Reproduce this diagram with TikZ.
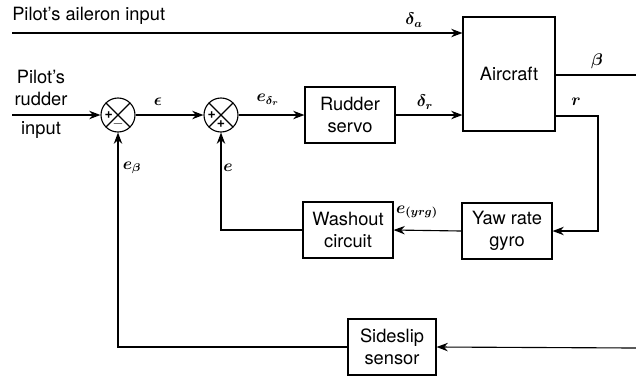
\documentclass[tikz,border=0pt]{standalone}
\usepackage{fontspec}
\setmainfont{TeX Gyre Heros}
\usetikzlibrary{arrows.meta}

\tikzset{
  blk/.style={draw, line width=0.8pt, align=center, font=\fontsize{13}{15.5}\selectfont, inner sep=0pt},
  sumj/.style={draw, circle, line width=0.8pt, minimum size=0.85cm, inner sep=0pt,
    path picture={\draw[line width=0.8pt] (path picture bounding box.north west) -- (path picture bounding box.south east)
      (path picture bounding box.north east) -- (path picture bounding box.south west);}},
  sgn/.style={font=\normalsize\bfseries, inner sep=0pt},
  sig/.style={line width=0.8pt, -{Stealth[length=8pt,width=6pt]}},
  wire/.style={line width=0.8pt},
  lbl/.style={font=\boldmath\large, inner sep=1pt},
  txt/.style={font=\fontsize{13}{15.5}\selectfont, inner sep=0pt},
}

\begin{document}
\begin{tikzpicture}[x=0.025cm, y=-0.025cm]
  \useasboundingbox (0,0) rectangle (636,377);

  % blocks
  \node[blk, minimum width=2.3cm, minimum height=2.85cm] (air) at (509,74) {Aircraft};
  \node[blk, minimum width=2.25cm, minimum height=1.4cm] (servo) at (350,115) {Rudder\\servo};
  \node[blk, minimum width=2.25cm, minimum height=1.4cm] (wash) at (348,230) {Washout\\circuit};
  \node[blk, minimum width=2.25cm, minimum height=1.4cm] (gyro) at (507,231) {Yaw rate\\gyro};
  \node[blk, minimum width=2.2cm, minimum height=1.4cm] (slip) at (392,347) {Sideslip\\sensor};

  % summing junctions
  \node[sumj] (s1) at (118,115) {};
  \node[sgn] at ([xshift=-0.23cm]s1.center) {+};
  \node[sgn] at ([yshift=-0.22cm]s1.center) {$-$};
  \node[sumj] (s2) at (221,115) {};
  \node[sgn] at ([xshift=-0.23cm]s2.center) {+};
  \node[sgn] at ([yshift=-0.22cm]s2.center) {+};

  % free ends
  \coordinate (ailin) at (12,33);
  \coordinate (rudin) at (12,115);
  \coordinate (betaout) at (636,75);
  \coordinate (rturn) at (598,116);
  \coordinate (slipin) at (636,348);

  % inputs
  \node[txt, anchor=south west] (ailtxt) at (12,25) {Pilot's aileron input};
  \node[txt, align=center] (rudtxt) at (41,88) {Pilot's\\rudder};
  \node[txt] (rudtxt2) at (41,130) {input};

  % connectors
  \draw[sig] (ailin) -- (ailin -| air.west);
  \draw[sig] (rudin) -- (s1.west);
  \draw[sig] (s1.east) -- (s2.west);
  \draw[sig] (s2.east) -- (servo.west);
  \draw[sig] (servo.east) -- (servo.east -| air.west);
  \draw[wire] (air.east |- betaout) -- (betaout);
  \draw[sig] (air.east |- rturn) -- (rturn) |- (gyro.east);
  \draw[sig] (gyro.west) -- (wash.east);
  \draw[sig] (wash.west) -| (s2.south);
  \draw[sig] (slipin) -- (slip.east);
  \draw[sig] (slip.west) -| (s1.south);

  % signal labels
  \node[lbl] (da) at (414,20) {$\delta_a$};
  \node[lbl] (eps) at (158,102) {$\epsilon$};
  \node[lbl] (edr) at (268,100) {$e_{\delta_r}$};
  \node[lbl] (dr) at (425,102) {$\delta_r$};
  \node[lbl] (beta) at (597,61) {$\beta$};
  \node[lbl] (rr) at (576,102) {$r$};
  \node[lbl] (eyrg) at (417,212) {$e_{(yrg)}$};
  \node[lbl] (ee) at (228,168) {$e$};
  \node[lbl] (eb) at (132,168) {$e_\beta$};
\end{tikzpicture}
\end{document}
